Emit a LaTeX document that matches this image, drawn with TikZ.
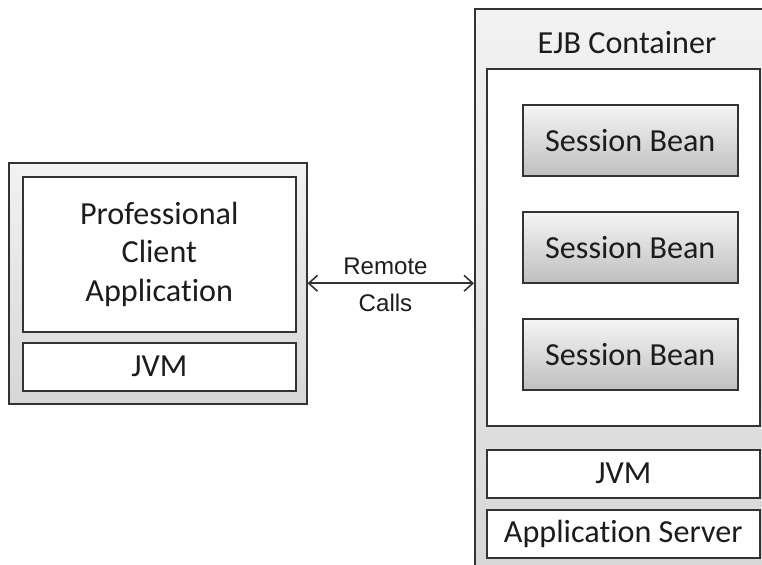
\documentclass[tikz,border=0pt]{standalone}
\usepackage{fontspec}
\setmainfont[Ligatures=NoCommon]{Carlito}
\newfontfamily\callfont{Liberation Sans}
\usepackage{tikz}
\usetikzlibrary{arrows.meta,shadows,positioning}

\definecolor{edge}{HTML}{333333}
\definecolor{textcol}{HTML}{1C1C1C}

\tikzset{
  frame/.style={draw=edge,line width=0.9pt,top color=gray!10,bottom color=gray!32,
    anchor=north west,inner sep=0pt},
  layer/.style={draw=edge,line width=0.9pt,fill=white,anchor=north west,inner sep=0pt,
    text=textcol,font=\fontsize{18.3}{22}\selectfont,align=center},
  bean/.style={draw=edge,line width=0.9pt,top color=gray!8,bottom color=gray!50,
    drop shadow={opacity=0.35,shadow xshift=0.6pt,shadow yshift=-0.8pt},
    anchor=north west,inner sep=0pt,minimum width=4.3cm,minimum height=1.42cm,
    text=textcol,font=\fontsize{18.3}{22}\selectfont}
}

\begin{document}
\begin{tikzpicture}[x=0.02cm,y=-0.02cm]
\clip (0,0) rectangle (762,565);

% Client side
\node[frame,minimum width=5.96cm,minimum height=4.82cm] (client) at (8,162) {};
\node[layer,minimum width=5.46cm,minimum height=3.1cm] (app) at (22,176)
  {Professional\\Client\\Application};
\node[layer,minimum width=5.46cm,minimum height=0.96cm] (cjvm) at (22,342) {JVM};

% Server side
\node[frame,minimum width=5.92cm,minimum height=11.34cm] (server) at (474,8) {};
\node[text=textcol,font=\fontsize{18.3}{22}\selectfont] (ejblabel) at (627,43) {EJB Container};
\node[layer,minimum width=5.46cm,minimum height=7.14cm] (ejb) at (486,68) {};

% Session beans
\foreach \i/\y in {1/104,2/211,3/318}
  \node[bean] (bean\i) at (522,\y) {Session Bean};

\node[layer,minimum width=5.46cm,minimum height=0.96cm] (sjvm) at (486,449) {JVM};
\node[layer,minimum width=5.46cm,minimum height=0.96cm] (appserver) at (486,509) {Application Server};

% Remote calls
\draw[{Straight Barb[length=5pt,width=9pt]}-{Straight Barb[length=5pt,width=9pt]},
  line width=0.9pt,edge] (client.east) -- (client.east -| server.west)
  node[midway,above=1pt,xshift=-3pt,font=\callfont\fontsize{13.7}{15}\selectfont,text=textcol] (remote) {Remote}
  node[midway,below=2.5pt,xshift=-3pt,font=\callfont\fontsize{13.7}{15}\selectfont,text=textcol] (calls) {Calls};
\end{tikzpicture}
\end{document}
